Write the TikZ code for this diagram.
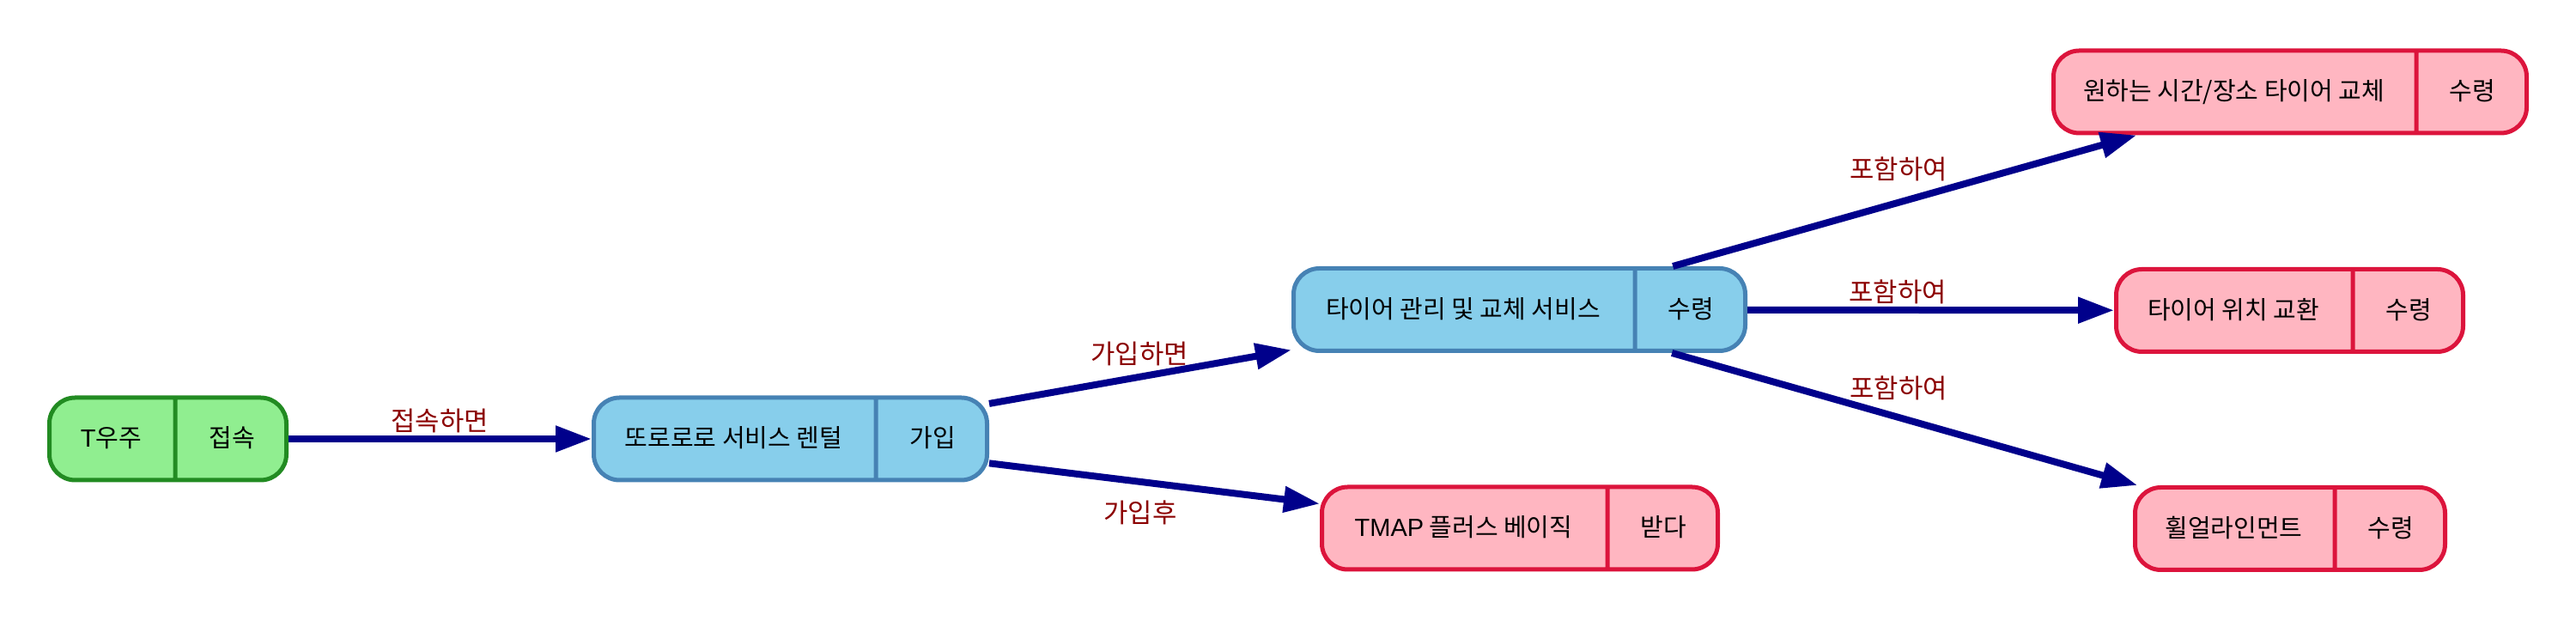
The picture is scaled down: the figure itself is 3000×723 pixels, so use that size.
\documentclass[tikz,border=0pt]{standalone}
\usepackage{fontspec}
\setmainfont{Liberation Sans}
\newfontfamily\kr{Noto Sans CJK KR}
\usetikzlibrary{shapes.multipart,arrows.meta}
\definecolor{gfill}{HTML}{90EE90}
\definecolor{gdraw}{HTML}{228B22}
\definecolor{bfill}{HTML}{87CEEB}
\definecolor{bdraw}{HTML}{4682B4}
\definecolor{pfill}{HTML}{FFB6C1}
\definecolor{pdraw}{HTML}{DC143C}
\definecolor{edgecol}{HTML}{00008B}
\definecolor{labcol}{HTML}{8B0000}
\newcommand{\recpart}[2]{\rule[-9.5pt]{0pt}{24pt}\makebox[#1]{#2}}
\begin{document}
\begin{tikzpicture}[x=0.25pt,y=-0.25pt,
  rec/.style={rectangle split, rectangle split horizontal, rectangle split parts=2,
    inner sep=0pt, rounded corners=7.5pt, line width=1.25pt,
    font=\fontsize{7.25}{8.7}\selectfont\kr},
  grec/.style={rec, draw=gdraw, fill=gfill},
  brec/.style={rec, draw=bdraw, fill=bfill},
  prec/.style={rec, draw=pdraw, fill=pfill},
  edge/.style={draw=edgecol, line width=2pt, -{Triangle[length=10.5pt,width=7.25pt]}},
  lab/.style={text=labcol, inner sep=0pt, font=\fontsize{7.7}{9}\selectfont\kr}]
\useasboundingbox (0,0) rectangle (3000,723);

\node[grec] (n1) at (195.5,511) {\recpart{36pt}{{\rmfamily T}우주}\nodepart{two}\recpart{31.75pt}{접속}};
\node[brec] (n2) at (920.5,511) {\recpart{81.5pt}{또로로로 서비스 렌털}\nodepart{two}\recpart{31.75pt}{가입}};
\node[brec] (n3) at (1769.5,360.5) {\recpart{98.75pt}{타이어 관리 및 교체 서비스}\nodepart{two}\recpart{31.5pt}{수령}};
\node[prec] (tmap) at (1770,615) {\recpart{82.5pt}{{\rmfamily TMAP} 플러스 베이직}\nodepart{two}\recpart{31.5pt}{받다}};
\node[prec] (top) at (2667,107) {\recpart{105pt}{원하는 시간/장소 타이어 교체}\nodepart{two}\recpart{31.5pt}{수령}};
\node[prec] (mid) at (2666.5,361.5) {\recpart{68.25pt}{타이어 위치 교환}\nodepart{two}\recpart{31.5pt}{수령}};
\node[prec] (bot) at (2667,615.5) {\recpart{57.5pt}{휠얼라인먼트}\nodepart{two}\recpart{31.5pt}{수령}};

\draw[edge] (n1) -- (n2);
\draw[edge] (n2) -- (n3);
\draw[edge] (n2) -- (tmap);
\draw[edge] (n3) -- (top);
\draw[edge] (n3) -- (mid);
\draw[edge] (n3) -- (bot);

\node[lab] (l1) at (512,490) {접속하면};
\node[lab] (l2) at (1327,412) {가입하면};
\node[lab] (l3) at (1328,597) {가입후};
\node[lab] (l4) at (2211,197) {포함하여};
\node[lab] (l5) at (2210,340) {포함하여};
\node[lab] (l6) at (2211,452) {포함하여};
\end{tikzpicture}
\end{document}
